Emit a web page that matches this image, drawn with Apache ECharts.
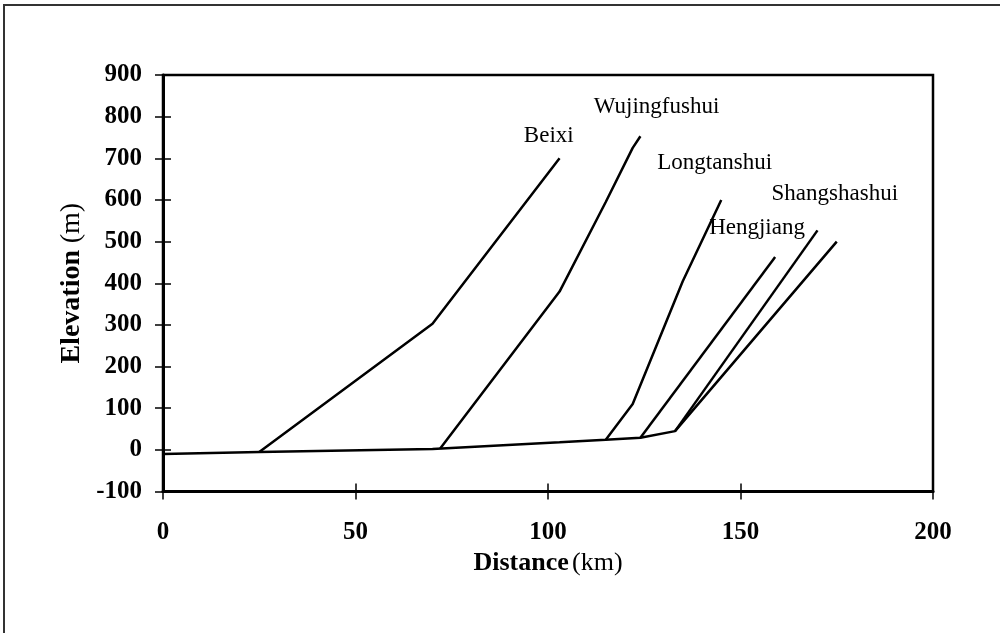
<!DOCTYPE html>
<html>
<head>
<meta charset="utf-8">
<script src="https://cdn.jsdelivr.net/npm/echarts@6/dist/echarts.min.js"></script>
<style>
  html, body { margin: 0; padding: 0; background: #fff; }
  #wrap { position: relative; width: 1000px; height: 633px; overflow: hidden; }
  #chart { position: absolute; left: 0; top: 0; width: 1000px; height: 633px; }
  #frame {
    position: absolute; left: 3px; top: 4px; right: -10px; bottom: -10px;
    border-top: 2px solid #333; border-left: 2px solid #333; pointer-events: none;
  }
</style>
</head>
<body>
<div id="wrap">
  <div id="chart"></div>
  <div id="frame"></div>
</div>
<script>
// river profiles: [distance km, elevation m]
const mainStream = [[0, -10], [25, -5], [70, 2], [103, 18], [115, 24], [124, 29], [133, 45], [175, 500]]
const beixi = [[25, -5], [70, 303], [103, 700]]
const wujingfushui = [[72, 3], [103, 380], [115, 595], [122, 725], [124, 753]]
const longtanshui = [[115, 24], [122, 110], [135, 405], [145, 600]]
const hengjiang = [[124, 29], [159, 463]]
const shangshashui = [[133, 45], [170, 527]]

const riverNames = ['Beixi', 'Wujingfushui', 'Longtanshui', 'Shangshashui', 'Hengjiang']
const labelPos = [[100.2, 753], [128.2, 823], [143.3, 689], [174.5, 614], [154.3, 533]]

const xTicks = { min: 0, max: 200, interval: 50 }
const yTicks = { min: -100, max: 900, interval: 100 }

const serif = "'Liberation Serif', 'Times New Roman', serif"
const chart = echarts.init(document.getElementById('chart'))

function river(data) {
  return {
    type: 'line',
    data: data,
    symbol: 'none',
    lineStyle: { color: '#000', width: 2.5 },
    silent: true,
    z: 3,
  }
}

const baseX = {
  type: 'value',
  min: xTicks.min,
  max: xTicks.max,
  interval: xTicks.interval,
  splitLine: { show: false },
}
const baseY = {
  type: 'value',
  min: yTicks.min,
  max: yTicks.max,
  interval: yTicks.interval,
  splitLine: { show: false },
}

chart.setOption({
  backgroundColor: '#fff',
  animation: false,
  grid: {
    left: 163,
    right: 67,
    top: 75,
    bottom: 141.5,
    show: true,
    borderColor: '#000',
    borderWidth: 2.5,
  },
  xAxis: [
    {
      ...baseX,
      name: '{b|Distance} {n|(km)}',
      nameLocation: 'middle',
      nameGap: 58,
      nameTextStyle: {
        rich: {
          b: { fontFamily: serif, fontWeight: 'bold', fontSize: 26, color: '#000' },
          n: { fontFamily: serif, fontSize: 26, color: '#000' },
        },
      },
      axisLine: { onZero: false, lineStyle: { color: '#000', width: 3 } },
      axisTick: { inside: false, length: 8, lineStyle: { color: '#000', width: 1.5 } },
      axisLabel: { margin: 29, fontFamily: serif, fontWeight: 'bold', fontSize: 25, color: '#000' },
    },
    {
      ...baseX,
      position: 'bottom',
      axisLine: { show: false, onZero: false },
      axisTick: { inside: true, length: 8, lineStyle: { color: '#000', width: 1.5 } },
      axisLabel: { show: false },
    },
  ],
  yAxis: [
    {
      ...baseY,
      name: '{b|Elevation}  {n|(m)}',
      nameLocation: 'middle',
      nameGap: 76,
      nameTextStyle: {
        rich: {
          b: { fontFamily: serif, fontWeight: 'bold', fontSize: 28, color: '#000' },
          n: { fontFamily: serif, fontSize: 28, color: '#000' },
        },
      },
      axisLine: { onZero: false, lineStyle: { color: '#000', width: 3 } },
      axisTick: { inside: false, length: 8, lineStyle: { color: '#000', width: 1.5 } },
      axisLabel: { margin: 21, fontFamily: serif, fontWeight: 'bold', fontSize: 25, color: '#000' },
    },
    {
      ...baseY,
      position: 'left',
      axisLine: { show: false, onZero: false },
      axisTick: { inside: true, length: 8, lineStyle: { color: '#000', width: 1.5 } },
      axisLabel: { show: false },
    },
  ],
  series: [
    river(mainStream),
    river(beixi),
    river(wujingfushui),
    river(longtanshui),
    river(hengjiang),
    river(shangshashui),
    {
      type: 'scatter',
      symbolSize: 0,
      silent: true,
      z: 4,
      data: labelPos.map((p, i) => ({ value: p, name: riverNames[i] })),
      label: {
        show: true,
        position: 'inside',
        formatter: (p) => p.name,
        fontFamily: serif,
        fontSize: 23,
        color: '#000',
        textBorderWidth: 0,
        opacity: 1,
      },
    },
  ],
})
</script>
</body>
</html>
